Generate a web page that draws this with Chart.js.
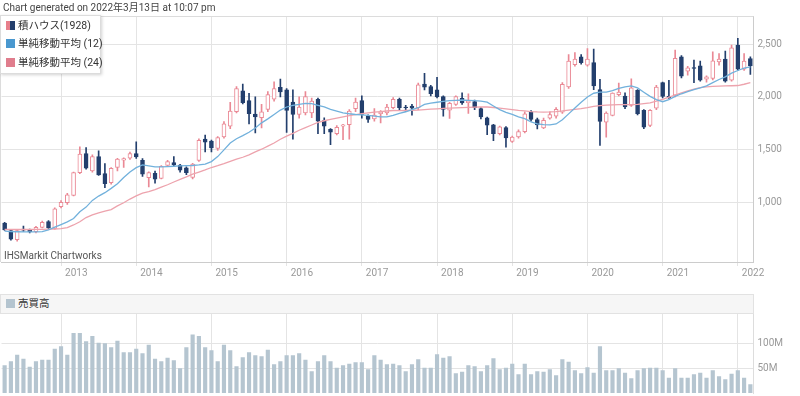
<!DOCTYPE html>
<html>
<head>
<meta charset="utf-8">
<script src="https://cdn.jsdelivr.net/npm/chart.js@4.4.1/dist/chart.umd.min.js"></script>
<style>
body{margin:0;background:#fff;font-family:Roboto,"Noto Sans CJK JP",sans-serif;}
#wrap{position:relative;width:800px;height:396px;overflow:hidden;background:#fff;}
canvas{position:absolute;left:0;}
#main{top:0;}
#vol{top:313px;}
#title{position:absolute;left:3px;top:1px;font-size:10px;color:#444;line-height:13px;white-space:nowrap;}
#legend{position:absolute;left:0;top:15px;width:101px;height:59px;background:#fff;border:1px solid #dcdcdc;box-shadow:1px 1px 3px rgba(0,0,0,.18);box-sizing:border-box;}
.item{position:absolute;left:5px;font-size:10.5px;color:#333;line-height:14px;white-space:nowrap;}
.sw{display:inline-block;width:9px;height:9px;vertical-align:-1px;margin-right:3px;}
#credit{position:absolute;left:4px;top:249px;font-size:10px;color:#555;line-height:13px;white-space:nowrap;}
#volhead{position:absolute;left:0;top:294px;width:754px;height:20px;background:#f6f6f6;border:1px solid #e2e2e2;box-sizing:border-box;}
#volhead .item{top:2px;}
</style>
</head>
<body>
<div id="wrap">
  <canvas id="main" width="800" height="285"></canvas>
  <canvas id="vol" width="800" height="83"></canvas>
  <div id="title">Chart generated on 2022年3月13日 at 10:07 pm</div>
  <div id="legend">
    <div class="item" style="top:3px"><span class="sw" style="background:linear-gradient(90deg,#e77f8b 50%,#233f6d 50%)"></span>積ハウス(1928)</div>
    <div class="item" style="top:21px"><span class="sw" style="background:#4a98cf"></span>単純移動平均 (12)</div>
    <div class="item" style="top:40px"><span class="sw" style="background:#e07d8d"></span>単純移動平均 (24)</div>
  </div>
  <div id="credit">IHSMarkit Chartworks</div>
  <div id="volhead"><div class="item"><span class="sw" style="background:#b4c4cf"></span>売買高</div></div>
</div>
<script>
// 月次 2012-04 .. 2022-03
const months = [];
for (let k = 0; k < 120; k++) {
  const m = 3 + k;
  months.push(`${2012 + Math.floor(m / 12)}-${String(m % 12 + 1).padStart(2, '0')}`);
}
const yearTicks = ['2013','2014','2015','2016','2017','2018','2019','2020','2021','2022'];
const priceTicks = [1000, 1500, 2000, 2500];
const volTicks = [50, 100];

const opens = [807,738,652,750,742,727,768,822,757,962, 1000,1070,1285,1465,1300,1437,1275,1190,1333,1402,
  1421,1465,1402,1238,1278,1231,1352,1380,1355,1330, 1240,1400,1602,1583,1513,1621,1723,1860,2057,1965,
  1838,1803,1882,1978,2092,2067,1952,1834,1850,1850, 1978,1777,1694,1653,1723,1739,1889,1965,1818,1793,
  1843,1850,1898,1978,1905,1914,1898,2121,2099,2067, 2003,1876,1930,1987,1946,1956,1889,1803,1736,1653,
  1710,1580,1621,1672,1860,1787,1707,1800,1818,1855, 2094,2306,2379,2300,2325,2069,1762,1825,2022,2009,
  1920,2063,1873,1730,1895,2136,2006,2016,2379,2243, 2278,2294,2167,2174,2332,2357,2158,2490,2262,2363];
const highs = [815,742,742,779,752,778,826,832,952,1020, 1088,1290,1529,1522,1452,1491,1370,1332,1420,1425,
  1480,1576,1418,1292,1300,1352,1400,1437,1362,1340, 1372,1605,1640,1592,1625,1768,1950,2099,2121,2035,
  2000,1930,2051,2143,2169,2080,2067,2000,2051,1990, 1990,1803,1700,1730,1740,1880,1990,2010,1830,1890,
  1870,1930,1995,1990,1920,1930,2130,2223,2110,2185, 2010,1950,2010,2040,2029,1970,1900,1810,1740,1725,
  1720,1630,1690,1860,1870,1800,1800,1860,1900,2135, 2401,2420,2400,2458,2452,2167,1860,2040,2130,2040,
  2170,2070,1880,1880,2110,2140,2158,2443,2390,2290, 2348,2340,2200,2427,2410,2433,2490,2553,2411,2380];
const lows = [738,646,636,728,716,716,762,756,750,950, 985,1064,1276,1318,1290,1258,1143,1175,1300,1333,
  1410,1420,1250,1150,1185,1225,1345,1350,1290,1265, 1225,1390,1481,1480,1494,1610,1700,1850,1935,1745,
  1659,1707,1860,1960,2000,1665,1602,1800,1830,1803, 1653,1653,1548,1640,1596,1600,1860,1800,1760,1770,
  1755,1830,1890,1880,1860,1828,1880,2067,2010,1990, 1819,1796,1920,1930,1844,1880,1793,1643,1586,1640,
  1526,1570,1610,1660,1770,1698,1700,1790,1800,1845, 2080,2290,2310,2290,2069,1541,1620,1820,2010,1890,
  1910,1830,1700,1720,1880,1990,1985,2000,2180,2205, 2136,2150,2140,2160,2300,2140,2150,2250,2250,2212];
const closes = [744,655,736,742,727,768,816,763,943,1005, 1076,1285,1459,1326,1437,1263,1180,1326,1412,1418,
  1465,1434,1269,1285,1222,1345,1390,1358,1307,1285, 1365,1590,1573,1519,1615,1745,1866,2080,1946,1841,
  1812,1860,2022,2080,2048,1873,1834,1905,2003,1960, 1771,1723,1666,1713,1736,1866,1952,1834,1787,1828,
  1856,1905,1978,1898,1898,1895,2115,2092,2032,2000, 1882,1940,2003,1943,1962,1898,1812,1733,1653,1717,
  1612,1621,1672,1841,1787,1736,1780,1834,1882,2120, 2338,2357,2325,2357,2104,1768,1848,2037,2047,1905,
  2085,1841,1715,1873,2094,2006,1990,2364,2196,2275, 2269,2158,2189,2341,2357,2148,2465,2262,2338,2294];
const ma12 = [731,728,726,725,725,725,728,744,769,794, 820,851,915,959,1022,1063,1095,1136,1180,1238,
  1291,1332,1358,1348,1339,1339,1342,1345,1348,1350, 1352,1358,1366,1389,1436,1500,1564,1605,1634,1666,
  1707,1755,1793,1834,1876,1905,1920,1930,1940,1936, 1920,1905,1882,1866,1850,1841,1834,1831,1825,1819,
  1812,1812,1825,1845,1860,1880,1898,1930,1942,1950, 1958,1965,1968,1971,1968,1965,1960,1950,1915,1880,
  1855,1835,1812,1795,1765,1745,1738,1736,1745,1785, 1840,1895,1950,2000,2035,2045,2045,2060,2080,2095,
  2105,2085,2045,2005,1975,1955,1975,2005,2030,2050, 2070,2085,2105,2135,2165,2190,2225,2250,2272,2285];
const ma24 = [747,747,747,747,747,748,749,750,752,755, 765,790,820,860,885,905,920,935,970,1000,
  1035,1065,1090,1105,1125,1148,1170,1196,1220,1244, 1270,1290,1310,1333,1350,1370,1392,1412,1430,1452,
  1480,1506,1535,1565,1600,1630,1655,1685,1710,1735, 1760,1775,1788,1800,1812,1823,1833,1842,1850,1856,
  1862,1867,1872,1870,1872,1874,1876,1880,1884,1888, 1891,1894,1896,1899,1901,1903,1905,1905,1900,1895,
  1887,1880,1873,1868,1862,1858,1857,1858,1862,1868, 1876,1882,1889,1898,1910,1918,1922,1925,1927,1927,
  1927,1930,1937,1944,1960,1978,1998,2018,2038,2058, 2075,2088,2095,2099,2102,2104,2106,2108,2120,2136];
// 売買高 (百万株)
const volumes = [55,63,76,68,52,63,66,66,88,93, 76,120,120,103,114,100,99,91,104,81,
  81,88,79,96,68,63,70,65,49,91, 117,114,91,85,63,96,85,53,71,81,
  75,73,86,57,63,75,75,79,66,43, 63,75,63,50,55,58,61,61,47,75,
  66,57,58,55,43,57,67,50,50,77, 70,73,39,42,55,53,43,55,69,47,
  50,58,37,58,37,43,42,47,35,67, 62,45,39,51,40,93,45,45,49,40,
  29,45,49,50,50,45,30,49,30,30, 37,40,30,45,33,27,38,45,30,17];

const PINK = '#ea8995', NAVY = '#233f6d', GRID = '#e4e4e4';
const tickText = months.map(m => yearTicks.includes(m.slice(0, 4)) && m.endsWith('-01') ? m.slice(0, 4) : '');
const isJan = i => tickText[i] !== '';
const up = closes.map((c, i) => c >= opens[i]);

Chart.defaults.font.family = 'Roboto, sans-serif';
Chart.defaults.font.size = 10;
Chart.defaults.color = '#999';

const frame = {
  id: 'frame',
  afterDraw(chart) {
    const {ctx, chartArea: a} = chart;
    ctx.save();
    ctx.strokeStyle = '#dcdcdc';
    ctx.lineWidth = 1;
    ctx.beginPath();
    ctx.moveTo(0.5, a.bottom); ctx.lineTo(0.5, a.top + 0.5); ctx.lineTo(a.right, a.top + 0.5);
    ctx.stroke();
    ctx.restore();
  }
};

new Chart(document.getElementById('main'), {
  type: 'bar',
  data: {
    labels: months,
    datasets: [
      {type: 'line', data: ma12, borderColor: '#72b1dc', borderWidth: 1.3, pointRadius: 0, order: 0},
      {type: 'line', data: ma24, borderColor: '#eda3ad', borderWidth: 1.3, pointRadius: 0, order: 0},
      {data: opens.map((o, i) => [o, closes[i]]), backgroundColor: up.map(u => u ? '#fff' : NAVY),
        borderColor: up.map(u => u ? PINK : NAVY), borderWidth: 1, borderSkipped: false,
        barThickness: 4, grouped: false, order: 1},
      {data: lows.map((l, i) => [l, highs[i]]), backgroundColor: up.map(u => u ? PINK : NAVY),
        barThickness: 1, grouped: false, order: 2}
    ]
  },
  options: {
    responsive: false, animation: false,
    layout: {padding: {top: 16, left: 1.5, right: 0, bottom: 0}},
    plugins: {legend: {display: false}, tooltip: {enabled: false}},
    scales: {
      x: {
        offset: true,
        grid: {offset: false, color: c => isJan(c.index) ? GRID : 'transparent', tickLength: 4},
        border: {color: '#ccc'},
        ticks: {autoSkip: false, maxRotation: 0, minRotation: 0, align: 'start', labelOffset: 4, padding: 1,
          callback: (v, i) => tickText[i]},
        afterFit: s => { s.height = 23; }
      },
      y: {
        position: 'right', min: 440, max: 2765,
        afterBuildTicks: s => { s.ticks = priceTicks.map(v => ({value: v})); },
        afterFit: s => { s.width = 46.5; },
        grid: {color: GRID, drawTicks: false},
        border: {color: '#ccc'},
        ticks: {padding: 4, callback: v => v.toLocaleString('en-US')}
      }
    }
  },
  plugins: [frame]
});

new Chart(document.getElementById('vol'), {
  type: 'bar',
  data: {labels: months, datasets: [{data: volumes, backgroundColor: '#b5c5d0', barThickness: 3.5}]},
  options: {
    responsive: false, animation: false,
    layout: {padding: {top: 0, left: 1.5, right: 0, bottom: 3}},
    plugins: {legend: {display: false}, tooltip: {enabled: false}},
    scales: {
      x: {
        offset: true,
        grid: {offset: false, color: c => isJan(c.index) ? GRID : 'transparent', drawTicks: false},
        border: {display: false},
        ticks: {display: false},
        afterFit: s => { s.height = 0; }
      },
      y: {
        position: 'right', min: 0, max: 160.6,
        afterBuildTicks: s => { s.ticks = volTicks.map(v => ({value: v})); },
        afterFit: s => { s.width = 46.5; s.paddingTop = 0; s.paddingBottom = 0; },
        grid: {color: GRID, drawTicks: false},
        border: {color: '#ddd'},
        ticks: {padding: 4, callback: v => v + 'M'}
      }
    }
  }
});
</script>
</body>
</html>
